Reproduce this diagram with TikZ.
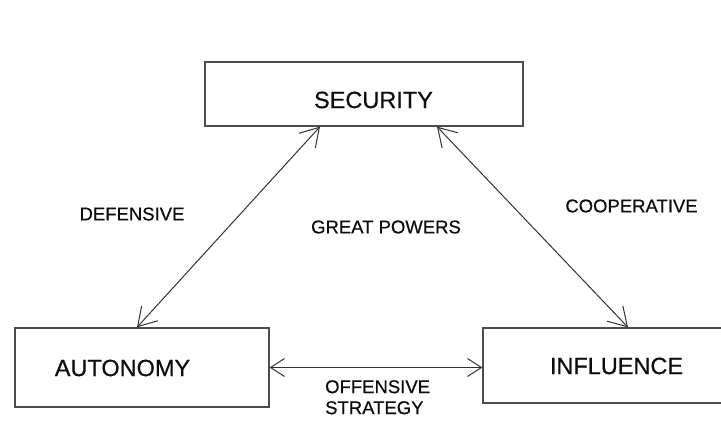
\documentclass[tikz,border=0pt]{standalone}
\usepackage{fontspec}
\setmainfont{Liberation Sans}
\newfontfamily\hvfont{Liberation Sans}[FakeBold=0.5]
\usetikzlibrary{arrows.meta}
\begin{document}
\begin{tikzpicture}[x=1pt,y=-1pt,
  box/.style={draw=black!70,line width=1.3pt,inner sep=0pt,minimum width=#1},
  boxtext/.style={inner sep=0pt,font=\hvfont\fontsize{23.5}{26}\selectfont,text=black!95},
  lab/.style={inner sep=0pt,font=\hvfont\fontsize{18.5}{21}\selectfont,text=black!95,align=left},
  diag/.style={draw=black!80,line width=1pt,
    {Straight Barb[length=18pt,width=22pt]}-{Straight Barb[length=18pt,width=22pt]}},
  horiz/.style={draw=black!80,line width=1pt,
    {Straight Barb[length=14pt,width=18pt]}-{Straight Barb[length=14pt,width=18pt]}}]
\useasboundingbox (0,0) rectangle (721,446);
\clip (0,0) rectangle (721,446);
\fill[white] (0,0) rectangle (721,446);
% boxes
\node[box=318pt,minimum height=64pt] (sec) at (364,94) {};
\node[box=254pt,minimum height=79pt] (aut) at (142,367.5) {};
\node[box=340pt,minimum height=75pt] (inf) at (653,365.5) {};
% box texts
\node[boxtext] (sect) at (373.5,100) {SECURITY};
\node[boxtext] (autt) at (122.5,368) {AUTONOMY};
\node[boxtext] (inft) at (616.5,366) {INFLUENCE};
% labels
\node[lab] (def) at (132,214) {DEFENSIVE};
\node[lab] (gp) at (386,227) {GREAT POWERS};
\node[lab] (coop) at (631.5,206) {COOPERATIVE};
\node[lab,anchor=north west] (off) at (325,380) {OFFENSIVE\\STRATEGY};
% connectors
\draw[diag] ([xshift=-44pt]sec.south) -- ([xshift=-5pt]aut.north);
\draw[diag] ([xshift=73pt]sec.south) -- ([xshift=-25pt]inf.north);
\draw[horiz] (aut.east) -- (aut.east -| inf.west);
\end{tikzpicture}
\end{document}
